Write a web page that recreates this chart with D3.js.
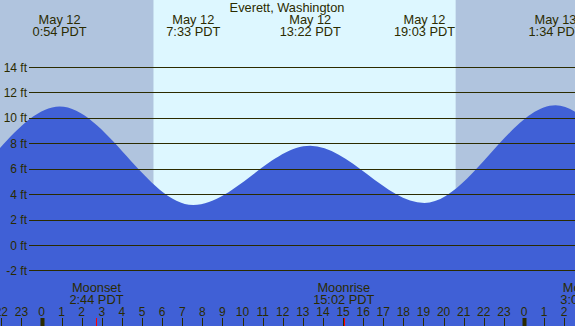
<!DOCTYPE html>
<html>
<head>
<meta charset="utf-8">
<script src="https://cdn.jsdelivr.net/npm/d3@7"></script>
<style>
  body { margin: 0; background: #fff; }
  svg { display: block; font-family: "Liberation Sans", Arial, sans-serif; }
</style>
</head>
<body>
<div id="chart"></div>
<script>
// chart size
const width = 575;
const height = 326;

// tide extremes, hours from May 12 00:00 (the outer ones are off-screen)
const tideHours = [-12.4, -5.8, 0.9, 7.55, 13.367, 19.05, 25.567, 31.8, 38.2];
const tideFeet = [9.0, 3.0, 10.9, 3.15, 7.8, 3.3, 11.0, 3.0, 8.5];

// labels for the visible extremes
const extremeHours = [0.9, 7.55, 13.367, 19.05, 25.567];
const extremeDates = ["May 12", "May 12", "May 12", "May 12", "May 13"];
const extremeTimes = ["0:54 PDT", "7:33 PDT", "13:22 PDT", "19:03 PDT", "1:34 PDT"];

// sun and moon
const sunHours = [5.57, 20.6];
const moonHours = [2.733, 15.033, 27.15];
const moonNames = ["Moonset", "Moonrise", "Moonset"];
const moonTimes = ["2:44 PDT", "15:02 PDT", "3:09 PDT"];

// y axis ticks
const feetTicks = [-2, 0, 2, 4, 6, 8, 10, 12, 14];
// hour ticks
const hourTicks = d3.range(-2, 27);

const textColor = "#2b2b00";

const svg = d3.select("#chart")
  .append("svg")
  .attr("width", width)
  .attr("height", height);

// scales
const x = d3.scaleLinear().domain([0, 24]).range([41.5, 524]);
const y = d3.scaleLinear().domain([0, 14]).range([245, 67]);

// night / day background
svg.append("rect")
  .attr("x", 0).attr("y", 0)
  .attr("width", width).attr("height", height)
  .attr("fill", "#b0c4de");

svg.append("rect")
  .attr("x", x(sunHours[0])).attr("y", 0)
  .attr("width", x(sunHours[1]) - x(sunHours[0]))
  .attr("height", height)
  .attr("fill", "#ddf7ff");

// tide area
const tide = tideHours.map((h, i) => ({h: h, ft: tideFeet[i]}));

const area = d3.area()
  .x(d => x(d.h))
  .y0(height)
  .y1(d => y(d.ft))
  .curve(d3.curveMonotoneX);

svg.append("path")
  .datum(tide)
  .attr("d", area)
  .attr("fill", "#4060d6");

// grid lines + y labels
svg.selectAll(".grid")
  .data(feetTicks)
  .enter()
  .append("line")
    .attr("x1", 29)
    .attr("x2", width)
    .attr("y1", d => Math.round(y(d)) + 0.5)
    .attr("y2", d => Math.round(y(d)) + 0.5)
    .attr("stroke", textColor)
    .attr("stroke-width", 1);

svg.selectAll(".ylab")
  .data(feetTicks)
  .enter()
  .append("text")
    .attr("x", 27)
    .attr("y", d => y(d) + 4.5)
    .attr("text-anchor", "end")
    .attr("font-size", "12px")
    .attr("fill", textColor)
    .text(d => d + " ft");

// title
svg.append("text")
  .attr("x", 287)
  .attr("y", 12)
  .attr("text-anchor", "middle")
  .attr("font-size", "12.8px")
  .attr("fill", textColor)
  .text("Everett, Washington");

// high / low labels
const ext = svg.selectAll(".ext")
  .data(extremeHours)
  .enter()
  .append("g");

ext.append("text")
  .attr("x", d => x(d))
  .attr("y", 24)
  .attr("text-anchor", "middle")
  .attr("font-size", "12.8px")
  .attr("fill", textColor)
  .text((d, i) => extremeDates[i]);

ext.append("text")
  .attr("x", d => x(d))
  .attr("y", 36)
  .attr("text-anchor", "middle")
  .attr("font-size", "12.8px")
  .attr("fill", textColor)
  .text((d, i) => extremeTimes[i]);

// moon labels
const moon = svg.selectAll(".moon")
  .data(moonHours)
  .enter()
  .append("g");

moon.append("text")
  .attr("x", d => x(d))
  .attr("y", 292)
  .attr("text-anchor", "middle")
  .attr("font-size", "12.8px")
  .attr("fill", textColor)
  .text((d, i) => moonNames[i]);

moon.append("text")
  .attr("x", d => x(d))
  .attr("y", 304)
  .attr("text-anchor", "middle")
  .attr("font-size", "12.8px")
  .attr("fill", textColor)
  .text((d, i) => moonTimes[i]);

// hour ticks and labels
svg.selectAll(".htick")
  .data(hourTicks)
  .enter()
  .append("line")
    .attr("x1", d => Math.round(x(d)) + 0.5)
    .attr("x2", d => Math.round(x(d)) + 0.5)
    .attr("y1", 318)
    .attr("y2", height)
    .attr("stroke", textColor)
    .attr("stroke-width", d => ((d + 24) % 24 === 0) ? 4 : 1);

svg.selectAll(".mtick")
  .data(moonHours)
  .enter()
  .append("line")
    .attr("x1", d => Math.round(x(d)) + 0.5)
    .attr("x2", d => Math.round(x(d)) + 0.5)
    .attr("y1", 318)
    .attr("y2", height)
    .attr("stroke", "#ff0000")
    .attr("stroke-width", 1);

svg.selectAll(".hlab")
  .data(hourTicks)
  .enter()
  .append("text")
    .attr("x", d => x(d))
    .attr("y", 316)
    .attr("text-anchor", "middle")
    .attr("font-size", "12px")
    .attr("fill", textColor)
    .text(d => (d + 24) % 24);
</script>
</body>
</html>
